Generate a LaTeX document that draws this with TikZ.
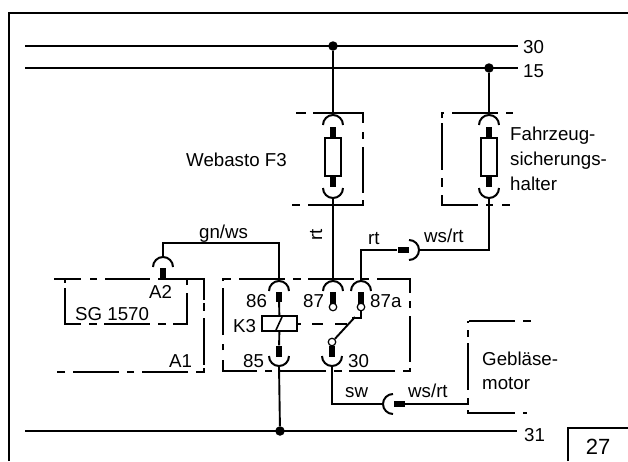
\documentclass[tikz,border=0pt]{standalone}
\usepackage{fontspec}
\setmainfont{Liberation Sans}
\newcommand{\capT}[3]{\coordinate (#1) at (#2,#3);
  \draw[capline] ([xshift=-10pt]#1) ++(0pt,-10pt) arc[start angle=180,end angle=0,radius=10pt];}
\newcommand{\capB}[3]{\coordinate (#1) at (#2,#3);
  \draw[capline] ([xshift=-10pt]#1) ++(0pt,10pt) arc[start angle=180,end angle=360,radius=10pt];}
\tikzset{
  wire/.style={line width=1.9pt},
  capline/.style={line width=2pt},
  boxdash/.style={line width=1.4pt},
  pinbox/.style={fill=black,draw=none,inner sep=0pt,minimum width=6.5pt,minimum height=#1},
  pinh/.style={fill=black,draw=none,inner sep=0pt,minimum width=11pt,minimum height=6pt},
  jdot/.style={circle,fill=black,draw=none,inner sep=0pt,minimum size=9.5pt},
  term/.style={circle,fill=white,draw=black,line width=1.2pt,inner sep=0pt,minimum size=7.5pt},
  lbl/.style={inner sep=0pt,anchor=base west,font=\fontsize{18.7}{18.7}\selectfont},
  fuse/.style={draw=black,line width=1.9pt,fill=white,inner sep=0pt,minimum width=16pt,minimum height=38pt},
}
\begin{document}
\begin{tikzpicture}[x=1pt,y=-1pt]
\useasboundingbox (0,0) rectangle (628,461);
% frame
\coordinate (fa) at (9,461); \coordinate (fb) at (9,13); \coordinate (fc) at (628,13);
\draw[line width=2.2pt] (fa) -- (fb) -- (fc);
\coordinate (na) at (568,461); \coordinate (nb) at (568,428); \coordinate (nc) at (628,428);
\draw[line width=2.2pt] (na) -- (nb) -- (nc);
\node[inner sep=0pt,anchor=base,font=\fontsize{22}{22}\selectfont] (n27) at (598,454) {27};
% buses
\coordinate (b30a) at (25,46); \coordinate (b30b) at (518,46);
\coordinate (b15a) at (25,68); \coordinate (b15b) at (518,68);
\coordinate (b31a) at (25,431); \coordinate (b31b) at (517,431);
\draw[wire] (b30a) -- (b30b);
\draw[wire] (b15a) -- (b15b);
\draw[wire] (b31a) -- (b31b);
\node[jdot] (j30) at (333,46) {};
\node[jdot] (j15) at (489,68) {};
\node[jdot] (j31) at (280,431) {};
\node[lbl] (l30) at (523,53) {30};
\node[lbl] (l15) at (523,77) {15};
\node[lbl] (l31) at (524,441) {31};
% dashed boxes, dash by dash
% F3
\draw[boxdash] (296,113)--(306,113) (313,113)--(363,113)--(363,123) (363,132)--(363,139) (363,147)--(363,193) (363,200)--(363,205)--(353,205)--(308,205) (292,205)--(300,205);
% vehicle
\draw[boxdash] (442,118)--(442,113)--(444,113) (452,113)--(498,113) (506,113)--(513,113) (442,123)--(442,170) (442,178)--(442,187) (442,195)--(442,205)--(478,205) (486,205)--(493,205) (502,205)--(510,205);
% A1
\draw[boxdash] (54,279)--(81,279) (90,279)--(97,279) (105,279)--(150,279) (158,279)--(204,279)--(204,300) (204,303)--(204,311) (204,318)--(204,365) (204,368)--(204,372)--(196,372) (188,372)--(142,372) (134,372)--(127,372) (119,372)--(73,372) (65,372)--(57,372);
% SG
\draw[boxdash] (65,279)--(65,283) (65,288)--(65,324)--(81,324) (89,324)--(97,324) (104,324)--(150,324) (158,324)--(166,324) (173,324)--(187,324)--(187,293) (187,285)--(187,279);
% relay
\draw[boxdash] (223,281)--(223,279)--(231,279) (239,279)--(285,279) (293,279)--(301,279) (308,279)--(354,279) (362,279)--(369,279) (377,279)--(410,279)--(410,293) (410,301)--(410,308) (410,316)--(410,362) (410,368)--(410,371)--(403,371) (395,371)--(349,371) (342,371)--(334,371) (326,371)--(280,371) (272,371)--(265,371) (257,371)--(223,371)--(223,360) (223,350)--(223,344) (223,335)--(223,288);
% Geblaese
\draw[boxdash] (469,321)--(515,321) (523,321)--(531,321) (468,321)--(468,323) (468,330)--(468,337) (468,343)--(468,390) (468,398)--(468,405) (468,410)--(468,413)--(515,413) (523,413)--(527,413);
% fuse F3
\capT{f3t}{333}{115}
\capB{f3b}{333}{198}
\node[pinbox=11pt] (f3p1) at (333,132.5) {};
\node[pinbox=11pt] (f3p2) at (333,181.5) {};
\node[fuse] (f3) at (333,157) {};
\draw[wire] (j30) -- (f3t);
% fuse vehicle
\capT{fvt}{489}{115}
\capB{fvb}{489}{198}
\node[pinbox=11pt] (fvp1) at (489,132.5) {};
\node[pinbox=11pt] (fvp2) at (489,181.5) {};
\node[fuse] (fv) at (489,157) {};
\draw[wire] (j15) -- (fvt);
% relay caps
\capT{c86}{279}{281}
\capT{c87}{333}{281}
\capT{c87a}{361}{281}
\capB{c85}{279}{366}
\capB{c30}{332}{366}
\capT{ca2}{163}{257}
\node[pinbox=10pt] (p86) at (279,297) {};
\node[pinbox=12pt] (p87) at (333,298) {};
\node[pinbox=12pt] (p87a) at (361,298) {};
\node[pinbox=11pt] (p85) at (279,351) {};
\node[pinbox=11pt] (p30) at (332,351) {};
\node[pinbox=10pt] (pa2) at (163,273) {};
% coil
\node[draw=black,line width=1.9pt,inner sep=0pt,minimum width=35pt,minimum height=15pt,fill=white] (coil) at (279.5,323.5) {};
\draw[wire] (p86) -- (coil);
\draw[wire] (coil) -- (p85);
\coordinate (ca) at (276,330); \coordinate (cb) at (282,317);
\draw[line width=1.6pt] (ca) -- (cb);
% switch
\node[term] (t87) at (333,307) {};
\node[term] (t87a) at (361,307) {};
\node[term] (t30) at (332,342) {};
\coordinate (s87) at (361,318); \coordinate (s87l) at (352,318);
\coordinate (sw) at (355,317);
\draw[wire] (t87a) -- (s87) -- (s87l);
\draw[wire] (t30) -- (sw);
\draw[wire] (t30) -- (p30);
\coordinate (da) at (297,324); \coordinate (db) at (301,324);
\coordinate (dc) at (312,324); \coordinate (dd) at (323,324);
\coordinate (de) at (335,324); \coordinate (df) at (347,324);
\draw[line width=1.6pt] (da) -- (db) (dc) -- (dd) (de) -- (df);
% wires
\coordinate (w1) at (279,243); \coordinate (w2) at (163,243);
\draw[wire] (c86) -- (w1) -- (w2) -- (ca2);
\draw[wire] (f3b) -- (c87);
\coordinate (w3) at (361,250);
\node[pinh] (prt) at (403,250) {};
\draw[wire] (c87a) -- (w3) -- (prt);
\coordinate (crt) at (409,250);
\draw[capline] (409,240) arc[start angle=90,end angle=-90,radius=10pt];
\coordinate (crte) at (419,250); \coordinate (w4) at (489,250);
\draw[wire] (crte) -- (w4) -- (fvb);
\draw[wire] (c85) -- (j31);
\coordinate (w5) at (332,404); \coordinate (csw) at (383,404);
\draw[wire] (c30) -- (w5) -- (csw);
\draw[capline] (393,394) arc[start angle=90,end angle=270,radius=10pt];
\node[pinh] (psw) at (399.5,404) {};
\coordinate (wm) at (468,404);
\draw[wire] (psw) -- (wm);
% labels
\node[lbl] (tweb) at (186,166) {Webasto F3};
\node[lbl,rotate=90,anchor=base] (trt1) at (322,235) {rt};
\node[lbl] (tgn) at (199,238) {gn/ws};
\node[lbl] (trt2) at (368,244) {rt};
\node[lbl] (tws1) at (424,242) {ws/rt};
\node[lbl] (tfa) at (510,140) {Fahrzeug-};
\node[lbl] (tsi) at (510,165) {sicherungs-};
\node[lbl] (tha) at (510,190) {halter};
\node[lbl] (ta2) at (149,298) {A2};
\node[lbl] (tsg) at (75,320) {SG 1570};
\node[lbl] (ta1) at (169,367) {A1};
\node[lbl] (t86t) at (246,307) {86};
\node[lbl] (t87t) at (303,307) {87};
\node[lbl] (t87at) at (370,307) {87a};
\node[lbl] (tk3) at (233,332) {K3};
\node[lbl] (t85t) at (243,367) {85};
\node[lbl] (t30t) at (348,367) {30};
\node[lbl] (tsw) at (345,397) {sw};
\node[lbl] (tws2) at (408,397) {ws/rt};
\node[lbl] (tge) at (482,365) {Gebläse-};
\node[lbl] (tmo) at (482,389) {motor};
\end{tikzpicture}
\end{document}
